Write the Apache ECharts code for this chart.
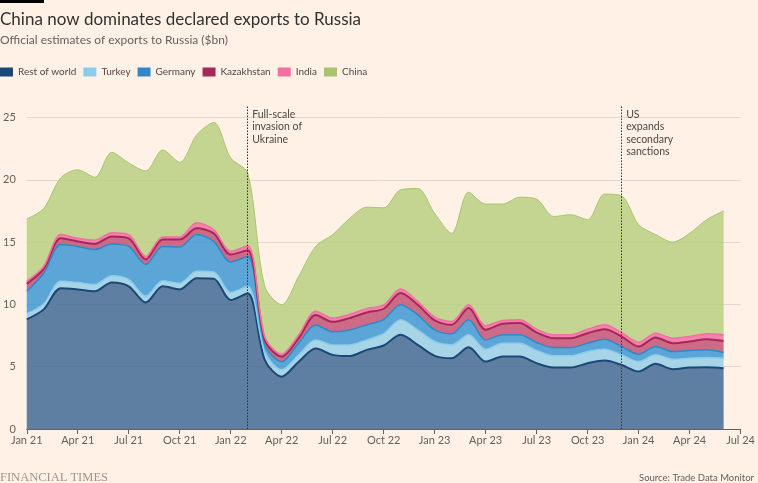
<!DOCTYPE html>
<html><head><meta charset="utf-8">
<script src="https://cdn.jsdelivr.net/npm/echarts@6/dist/echarts.min.js"></script>
<style>html,body{margin:0;padding:0;background:#fff1e5;}#c{width:758px;height:483px;}</style>
</head><body><div id="c"></div>
<script>
// Monthly categories Jan 2021 ... Jul 2024 (data runs to Jun 2024)
const months = ['Jan 21','Feb 21','Mar 21','Apr 21','May 21','Jun 21','Jul 21','Aug 21','Sep 21','Oct 21','Nov 21','Dec 21',
  'Jan 22','Feb 22','Mar 22','Apr 22','May 22','Jun 22','Jul 22','Aug 22','Sep 22','Oct 22','Nov 22','Dec 22',
  'Jan 23','Feb 23','Mar 23','Apr 23','May 23','Jun 23','Jul 23','Aug 23','Sep 23','Oct 23','Nov 23','Dec 23',
  'Jan 24','Feb 24','Mar 24','Apr 24','May 24','Jun 24','Jul 24'];
const restOfWorld = [8.8,9.6,11.3,11.2,11.05,11.75,11.45,10.15,11.45,11.2,12.1,12.05,10.35,10.9,5.55,4.2,5.4,6.45,5.95,5.85,6.35,6.7,7.56,6.75,5.87,5.68,6.56,5.41,5.81,5.81,5.28,4.93,4.93,5.28,5.49,5.14,4.61,5.23,4.8,4.93,4.96,4.88];
const turkey = [0.45,0.45,0.55,0.55,0.55,0.55,0.55,0.5,0.45,0.5,0.55,0.55,0.6,0.55,0.65,0.55,0.55,0.7,0.8,0.9,0.8,0.95,1.2,1.21,1.15,1.07,1.0,0.99,1.08,1.08,1.02,0.94,0.94,0.94,0.91,0.81,0.8,0.72,0.8,0.75,0.77,0.8];
const germany = [1.8,2.45,2.95,2.9,2.8,2.55,2.65,2.55,2.75,2.9,2.95,2.45,2.45,2.4,0.55,0.65,0.95,1.2,1.05,1.2,1.2,1.15,1.21,1.2,0.94,0.89,1.2,0.75,0.67,0.67,0.64,0.67,0.67,0.67,0.81,0.67,0.59,0.67,0.62,0.62,0.62,0.46];
const kazakhstan = [0.6,0.35,0.5,0.4,0.45,0.6,0.65,0.4,0.55,0.6,0.5,0.65,0.6,0.5,0.4,0.4,0.4,0.8,0.8,0.95,1.0,0.85,0.94,0.81,0.75,0.72,0.94,0.81,0.88,0.94,0.8,0.75,0.75,0.8,0.8,0.8,0.62,0.72,0.67,0.72,0.86,0.93];
const india = [0.2,0.2,0.3,0.25,0.3,0.3,0.3,0.25,0.2,0.2,0.45,0.3,0.25,0.35,0.25,0.2,0.25,0.3,0.3,0.3,0.3,0.3,0.32,0.27,0.27,0.27,0.27,0.32,0.27,0.26,0.27,0.27,0.27,0.32,0.35,0.32,0.35,0.35,0.4,0.4,0.43,0.49];
const china = [5.0,4.65,4.55,5.5,5.05,6.45,5.75,6.85,7.0,6.0,7.05,8.6,7.5,5.85,4.05,3.97,4.7,5.2,6.7,7.7,8.15,7.8,7.97,9.06,8.32,7.07,9.03,9.77,9.34,9.84,10.44,9.49,9.64,8.79,10.49,10.96,9.43,7.91,7.71,8.28,9.16,9.94];
const seriesNames = ['Rest of world','Turkey','Germany','Kazakhstan','India','China'];
const seriesValues = [restOfWorld, turkey, germany, kazakhstan, india, china];
const events = [{month: 'Feb 22', text: 'Full-scale\ninvasion of\nUkraine'}, {month: 'Dec 23', text: 'US\nexpands\nsecondary\nsanctions'}];

const lineColors = ['#1b4876','#8ccbea','#2f88c6','#a8275a','#f46fa0','#a9c46e'];
const fillColors = ['#436b97','#99cfe9','#3e99d3','#c35378','#f070a1','#b8d082'];
const lineWidths = [2,1.5,1.5,2,1.5,1];
const FONT = 'Lato, "Open Sans", sans-serif';

const chart = echarts.init(document.getElementById('c'), null, {renderer: 'canvas'});
const series = seriesNames.map((name, k) => ({
  name, type: 'line', stack: 'total', smooth: 0.3, symbol: 'none',
  data: seriesValues[k],
  lineStyle: {color: lineColors[k], width: lineWidths[k]},
  itemStyle: {color: lineColors[k]},
  areaStyle: {color: fillColors[k], opacity: 0.85},
  emphasis: {disabled: true}, silent: true, z: 2
}));
series.push({
  name: 'annotations', type: 'line', data: [], z: 5, silent: true,
  markLine: {
    symbol: 'none', silent: true, label: {show: false},
    lineStyle: {color: '#33302e', type: [1.5, 1.5], width: 1},
    data: events.map(e => ({xAxis: e.month}))
  },
  markPoint: {
    symbol: 'circle', symbolSize: 1, silent: true,
    itemStyle: {color: 'rgba(0,0,0,0)'},
    label: {show: true, position: [5, 0], align: 'left', verticalAlign: 'top',
      fontFamily: FONT, fontSize: 10.5, lineHeight: 12.5, color: '#4d4845'},
    data: events.map(e => ({coord: [e.month, 25.7], label: {formatter: e.text}}))
  }
});

chart.setOption({
  backgroundColor: '#fff1e5',
  animation: false,
  graphic: [{type: 'rect', left: 0, top: 0, shape: {width: 44, height: 3}, style: {fill: '#000'}}],
  title: [
    {text: 'China now dominates declared exports to Russia', left: -5, top: 6,
     textStyle: {fontFamily: FONT, fontSize: 17, fontWeight: 'normal', color: '#33302e'}},
    {text: 'Official estimates of exports to Russia ($bn)', left: -5, top: 29,
     textStyle: {fontFamily: FONT, fontSize: 12, fontWeight: 'normal', color: '#66605c'}},
    {text: 'FINANCIAL TIMES', left: -5, top: 466,
     textStyle: {fontFamily: '"Liberation Serif", serif', fontSize: 12.5, fontWeight: 'normal', color: '#9e958d'}},
    {text: 'Source: Trade Data Monitor', right: -1, top: 468,
     textStyle: {fontFamily: FONT, fontSize: 9.5, fontWeight: 'normal', color: '#66605c'}}
  ],
  legend: {
    data: seriesNames, left: 0, top: 67, padding: 0, icon: 'rect', itemWidth: 13, itemHeight: 9, itemGap: 7,
    textStyle: {fontFamily: FONT, fontSize: 10, color: '#4d4845'}, selectedMode: false
  },
  grid: {left: 21, right: 15, top: 105, bottom: 54, containLabel: false},
  xAxis: {
    type: 'category', data: months, boundaryGap: false,
    axisLine: {show: true, lineStyle: {color: '#66605c', width: 1}},
    axisTick: {show: true, length: 5, interval: 2, lineStyle: {color: '#66605c'}},
    axisLabel: {interval: 2, fontFamily: FONT, fontSize: 11, color: '#66605c', margin: 6},
    splitLine: {show: false}
  },
  yAxis: {
    type: 'value', min: 0, max: 26, interval: 5,
    axisLine: {show: false}, axisTick: {show: false},
    axisLabel: {fontFamily: FONT, fontSize: 11, color: '#66605c', margin: 11, showMaxLabel: false},
    splitLine: {show: true, showMaxLine: false, lineStyle: {color: '#e3d6cb', width: 1}}
  },
  series
});
</script></body></html>
